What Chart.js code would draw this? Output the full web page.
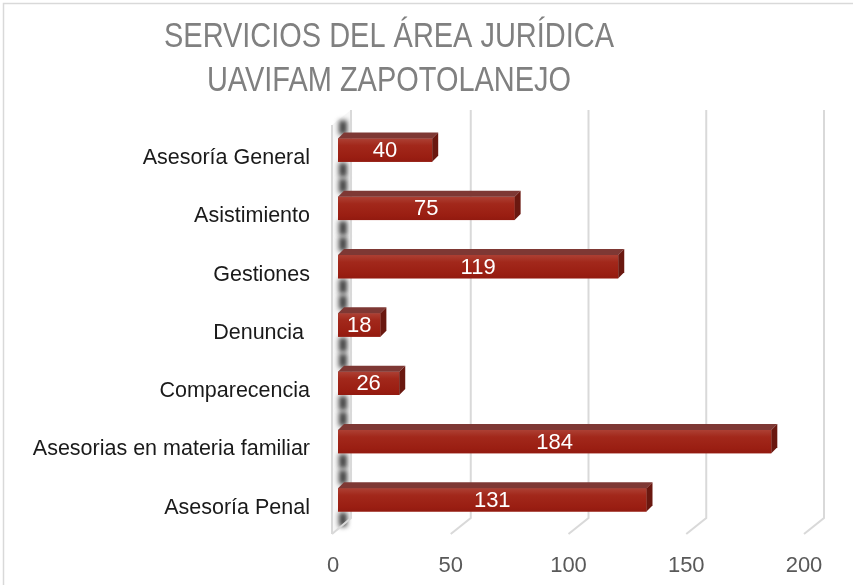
<!DOCTYPE html>
<html>
<head>
<meta charset="utf-8">
<script src="https://cdn.jsdelivr.net/npm/chart.js@4.4.1/dist/chart.umd.min.js"></script>
<style>
  html, body { margin: 0; padding: 0; background: #fff; }
</style>
</head>
<body>
<canvas id="chart" width="857" height="585"></canvas>
<script>
const titleLines = ['SERVICIOS DEL ÁREA JURÍDICA', 'UAVIFAM ZAPOTOLANEJO'];
const categories = ['Asesoría General', 'Asistimiento', 'Gestiones', 'Denuncia ', 'Comparecencia', 'Asesorias en materia familiar', 'Asesoría Penal'];
const services = [40, 75, 119, 18, 26, 184, 131];
const xTicks = [0, 50, 100, 150, 200];

const labelFont = "'Liberation Sans', Arial, sans-serif";
const gridColor = '#d9d9d9';

// white page, thin frame, title
const framePlugin = {
    id: 'frame',
    beforeDraw(chart) {
        const ctx = chart.ctx;
        ctx.save();
        ctx.fillStyle = '#fff';
        ctx.fillRect(0, 0, chart.width, chart.height);
        ctx.strokeStyle = gridColor;
        ctx.lineWidth = 1.5;
        ctx.beginPath();
        ctx.moveTo(3.5, chart.height);
        ctx.lineTo(3.5, 3.5);
        ctx.lineTo(chart.width - 4, 3.5);
        ctx.stroke();

        // title, narrow like the original
        ctx.fillStyle = '#808080';
        ctx.font = "35px 'Liberation Sans Narrow', 'Liberation Sans', sans-serif";
        ctx.textAlign = 'center';
        ctx.textBaseline = 'alphabetic';
        const squeeze = 450 / ctx.measureText(titleLines[0]).width;
        const baselines = [47, 91];
        titleLines.forEach((line, i) => {
            ctx.save();
            ctx.translate(389, baselines[i]);
            ctx.scale(squeeze, 1);
            ctx.fillText(line, 0, 0);
            ctx.restore();
        });
        ctx.restore();
    }
};

// back wall gridlines, floor and left wall of the 3D box
const wallsPlugin = {
    id: 'walls',
    beforeDatasetsDraw(chart) {
        const ctx = chart.ctx;
        const x = chart.scales.x;
        const top = 110, backBottom = 518, frontBottom = 534;
        ctx.save();
        ctx.strokeStyle = gridColor;
        ctx.lineWidth = 2;
        xTicks.forEach(v => {
            const px = x.getPixelForValue(v);
            if (v === 0) return;
            ctx.beginPath();
            ctx.moveTo(px + 15, top);
            ctx.lineTo(px + 15, backBottom);
            ctx.lineTo(px - 5, frontBottom);
            ctx.stroke();
        });

        // left wall
        const x0 = x.getPixelForValue(0);
        ctx.fillStyle = '#f7f7f7';
        ctx.beginPath();
        ctx.moveTo(x0 - 6, top + 15);
        ctx.lineTo(x0 + 13, top);
        ctx.lineTo(x0 + 13, backBottom);
        ctx.lineTo(x0 - 6, frontBottom);
        ctx.closePath();
        ctx.fill();

        // dark shading on the wall around each bar
        const meta = chart.getDatasetMeta(0);
        ctx.filter = 'blur(2.5px)';
        ctx.fillStyle = '#404040';
        meta.data.forEach(bar => {
            const t = bar.y - bar.height / 2;
            const b = bar.y + bar.height / 2;
            ctx.fillRect(x0 + 1, t - 18, 8, 14);
            ctx.fillRect(x0 + 1, b + 1, 8, 14);
        });
        ctx.filter = 'none';

        ctx.strokeStyle = gridColor;
        ctx.lineWidth = 2;
        ctx.beginPath();
        ctx.moveTo(x0 - 6, top + 15);
        ctx.lineTo(x0 - 6, frontBottom);
        ctx.moveTo(x0 + 13, top);
        ctx.lineTo(x0 + 13, backBottom);
        ctx.lineTo(x0 - 6, frontBottom);
        ctx.stroke();
        ctx.restore();
    }
};

// top and side faces, shading of the front and value labels
const bars3dPlugin = {
    id: 'bars3d',
    afterDatasetsDraw(chart) {
        const ctx = chart.ctx;
        const meta = chart.getDatasetMeta(0);
        const d = 6;
        ctx.save();
        meta.data.forEach((bar, i) => {
            const x0 = bar.base, x1 = bar.x;
            const t = bar.y - bar.height / 2;
            const b = bar.y + bar.height / 2;

            const front = ctx.createLinearGradient(0, t, 0, b);
            front.addColorStop(0, '#ad4034');
            front.addColorStop(0.3, '#a2281b');
            front.addColorStop(0.8, '#9a1e12');
            front.addColorStop(1, '#921a10');
            ctx.fillStyle = front;
            ctx.fillRect(x0, t, x1 - x0, b - t);

            ctx.fillStyle = '#7e3834';
            ctx.beginPath();
            ctx.moveTo(x0, t);
            ctx.lineTo(x0 + d, t - d);
            ctx.lineTo(x1 + d, t - d);
            ctx.lineTo(x1, t);
            ctx.closePath();
            ctx.fill();

            ctx.fillStyle = '#6a1810';
            ctx.beginPath();
            ctx.moveTo(x1, t);
            ctx.lineTo(x1 + d, t - d);
            ctx.lineTo(x1 + d, b - d);
            ctx.lineTo(x1, b);
            ctx.closePath();
            ctx.fill();

            ctx.fillStyle = '#ffffff';
            ctx.font = '22px ' + labelFont;
            ctx.textAlign = 'center';
            ctx.textBaseline = 'middle';
            ctx.fillText(String(services[i]), (x0 + x1) / 2, bar.y + 1);
        });
        ctx.restore();
    }
};

new Chart(document.getElementById('chart'), {
    type: 'bar',
    data: {
        labels: categories,
        datasets: [{
            data: services,
            backgroundColor: '#9f2316',
            borderWidth: 0,
            barPercentage: 0.8,
            categoryPercentage: 0.5
        }]
    },
    options: {
        indexAxis: 'y',
        responsive: false,
        animation: false,
        devicePixelRatio: 1,
        layout: { padding: { top: 121, right: 48, left: 0, bottom: 0 } },
        plugins: {
            legend: { display: false },
            title: { display: false },
            tooltip: { enabled: false }
        },
        scales: {
            x: {
                min: 0,
                max: 200,
                afterBuildTicks(scale) {
                    scale.ticks = xTicks.map(v => ({ value: v }));
                },
                afterFit(scale) { scale.height = 56; },
                grid: { display: false, drawTicks: false },
                border: { display: false },
                ticks: {
                    color: '#595959',
                    font: { family: labelFont, size: 22 },
                    padding: 24,
                    labelOffset: -5
                }
            },
            y: {
                afterFit(scale) { scale.width = 338; },
                grid: { display: false, drawTicks: false },
                border: { display: false },
                ticks: {
                    color: '#1a1a1a',
                    font: { family: labelFont, size: 21.5 },
                    padding: 28,
                    labelOffset: 8
                }
            }
        }
    },
    plugins: [framePlugin, wallsPlugin, bars3dPlugin]
});
</script>
</body>
</html>
